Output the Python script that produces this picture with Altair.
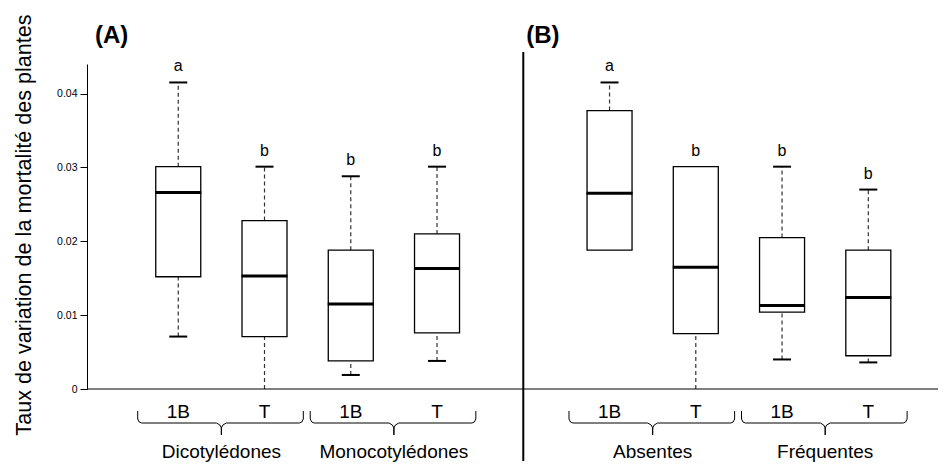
import altair as alt
import pandas as pd

# ---------------- data ----------------
panels = ["(A)", "(B)"]
group_names = ["Dicotylédones", "Monocotylédones", "Absentes", "Fréquentes"]
group_panel = [0, 0, 1, 1]
treatments = ["1B", "T"]

box_group = ["Dicotylédones", "Dicotylédones", "Monocotylédones", "Monocotylédones",
             "Absentes", "Absentes", "Fréquentes", "Fréquentes"]
box_treat = ["1B", "T", "1B", "T", "1B", "T", "1B", "T"]
whisk_lo = [0.0071, 0.0000, 0.0019, 0.0038, 0.0188, 0.0000, 0.0040, 0.0036]
q1 =       [0.0152, 0.0071, 0.0038, 0.0076, 0.0188, 0.0075, 0.0104, 0.0045]
median =   [0.0266, 0.0153, 0.0115, 0.0163, 0.0265, 0.0165, 0.0113, 0.0124]
q3 =       [0.0301, 0.0228, 0.0188, 0.0210, 0.0377, 0.0301, 0.0205, 0.0188]
whisk_hi = [0.0415, 0.0301, 0.0288, 0.0301, 0.0415, 0.0301, 0.0301, 0.0270]
letters =  ["a", "b", "b", "b", "a", "b", "b", "b"]

y_ticks = [0, 0.01, 0.02, 0.03, 0.04]
y_title = "Taux de variation de la mortalité des plantes"

# ---------------- layout helpers ----------------
W, H = 851, 325
YMAX = 0.044
PANEL_SLOTS = 5                      # 4 boxes + 1 gap unit per panel
XMAX = 9.75
PX = XMAX / W                        # one pixel in x data units
FONT = "Liberation Sans"


def py(pix):
    """pixel offset below plot top -> y data value on the main scale"""
    return (H - pix) / H * YMAX


rows = []
for i, g in enumerate(box_group):
    gi = group_names.index(g)
    p = group_panel[gi]
    within = [k for k, gg in enumerate(box_group) if group_panel[group_names.index(gg)] == p].index(i)
    rows.append(dict(group=g, treat=box_treat[i], pos=p * PANEL_SLOTS + within + 1,
                     lo=whisk_lo[i], q1=q1[i], med=median[i], q3=q3[i], hi=whisk_hi[i],
                     letter=letters[i]))
df = pd.DataFrame(rows)

# curly brackets under each group
br = []
grp = []
for g in group_names:
    ps = df.loc[df.group == g, "pos"]
    L, R, C = ps.min() - 0.47, ps.max() + 0.45, (ps.min() + ps.max()) / 2
    pts = [(L, 347), (L, 355), (L + 1.5 * PX, 358), (L + 4 * PX, 359),
           (C - 5 * PX, 359), (C - 1.5 * PX, 361), (C, 364), (C, 371), (C, 364),
           (C + 1.5 * PX, 361), (C + 5 * PX, 359), (R - 4 * PX, 359),
           (R - 1.5 * PX, 358), (R, 355), (R, 347)]
    for k, (x, y) in enumerate(pts):
        br.append(dict(group=g, i=k, x=x, y=py(y)))
    grp.append(dict(group=g, c=C))
df_br = pd.DataFrame(br)
df_grp = pd.DataFrame(grp)
df_pan = pd.DataFrame(dict(label=panels, x=[k * PANEL_SLOTS for k in range(len(panels))]))
df_sep = pd.DataFrame(dict(x=[PANEL_SLOTS * k for k in range(1, len(panels))]))

xs = alt.Scale(domain=[0, XMAX], nice=False, zero=False)
ys = alt.Scale(domain=[0, YMAX], nice=False, zero=False)
y_axis = alt.Axis(values=y_ticks, grid=False, title=y_title,
                  labelExpr="datum.value == 0 ? '0' : format(datum.value, '.2f')",
                  labelFontSize=10.5, labelFont=FONT, labelColor="black", labelPadding=3,
                  tickSize=7, tickColor="black", domainColor="black",
                  titleFont=FONT, titleFontSize=21.6, titleFontWeight="normal",
                  titleColor="black", titleAngle=-90, titleX=-57, titleY=H / 2 - 2,
                  titleAlign="center", titleBaseline="alphabetic")


def XN(f):
    return alt.X(f, scale=xs, axis=None)


def Yn(f):
    return alt.Y(f, scale=ys, axis=y_axis)


base = alt.Chart(df)

whisk_up = base.mark_rule(color="#333", strokeDash=[4, 3], strokeWidth=1.2).encode(
    x=XN("pos:Q"), y=Yn("q3:Q"), y2="hi:Q")
whisk_dn = base.mark_rule(color="#333", strokeDash=[4, 3], strokeWidth=1.2).encode(
    x=XN("pos:Q"), y=Yn("lo:Q"), y2="q1:Q")
boxes = base.mark_bar(size=45, fill="white", stroke="black", strokeWidth=1.3).encode(
    x=XN("pos:Q"), y=Yn("q1:Q"), y2="q3:Q")
meds = base.mark_tick(orient="horizontal", size=46, thickness=3, color="black",
                      opacity=1).encode(x=XN("pos:Q"), y=Yn("med:Q"))
cap_hi = base.transform_filter("datum.hi > datum.q3").mark_tick(
    orient="horizontal", size=18, thickness=2, color="black", opacity=1).encode(
    x=XN("pos:Q"), y=Yn("hi:Q"))
cap_lo = base.transform_filter("datum.lo < datum.q1 && datum.lo > 0").mark_tick(
    orient="horizontal", size=18, thickness=2, color="black", opacity=1).encode(
    x=XN("pos:Q"), y=Yn("lo:Q"))
lets = base.mark_text(dy=-11, baseline="alphabetic", fontSize=16, font=FONT,
                      color="black").encode(x=XN("pos:Q"), y=Yn("hi:Q"), text="letter:N")
tlab = base.mark_text(baseline="alphabetic", fontSize=19, font=FONT, color="black").encode(
    x=XN("pos:Q"), y=alt.value(354), text="treat:N")

baseline_rule = alt.Chart(df_sep).mark_rule(color="black", strokeWidth=1).encode(
    x=alt.value(0), x2=alt.value(W), y=alt.value(H))
brackets = alt.Chart(df_br).mark_line(color="black", strokeWidth=1, clip=False).encode(
    x=XN("x:Q"), y=Yn("y:Q"), detail="group:N", order="i:Q")
glab = alt.Chart(df_grp).mark_text(baseline="alphabetic", fontSize=19, font=FONT,
                                   color="black").encode(
    x=XN("c:Q"), y=alt.value(394), text="group:N")
ptitle = alt.Chart(df_pan).mark_text(align="left", baseline="alphabetic", dx=3,
                                     fontSize=24, fontWeight="bold", font=FONT,
                                     color="black").encode(
    x=XN("x:Q"), y=alt.value(-21), text="label:N")
sep = alt.Chart(df_sep).mark_rule(color="black", strokeWidth=2).encode(
    x=XN("x:Q"), y=alt.value(-12), y2=alt.value(397))

chart = alt.layer(whisk_up, whisk_dn, boxes, meds, cap_hi, cap_lo, lets, tlab,
                  baseline_rule, brackets, glab, ptitle, sep).properties(
    width=W, height=H,
    padding={"left": 79, "top": 56, "right": 0, "bottom": 75},
    autosize=alt.AutoSizeParams(type="none"),
).configure(font=FONT).configure_view(stroke=None).configure_axis(grid=False)

chart.save("out.html", embed_options={"renderer": "svg", "actions": False})
